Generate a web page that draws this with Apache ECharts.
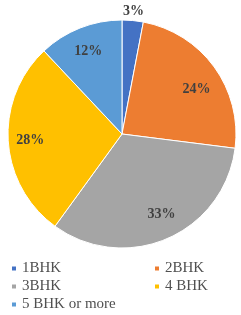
<!DOCTYPE html>
<html>
<head>
<meta charset="utf-8">
<script src="https://cdn.jsdelivr.net/npm/echarts@6/dist/echarts.min.js"></script>
<style>
  html, body { margin: 0; padding: 0; background: #fff; }
  #chart { width: 241px; height: 315px; }
</style>
</head>
<body>
<div id="chart"></div>
<script>
const categories = ['1BHK', '2BHK', '3BHK', '4 BHK', '5 BHK or more']
const shares = [3, 24, 33, 28, 12]
const colors = ['#4472C4', '#ED7D31', '#A5A5A5', '#FFC000', '#5B9BD5']
const leftLegend = ['1BHK', '3BHK', '5 BHK or more']
const rightLegend = ['2BHK', '4 BHK']

const center = [122, 134]
const R = 114
const serif = 'Liberation Serif'

// small nudges so labels sit where the original best-fit put them
const labelNudge = [[0, 0], [0, 9], [3, -4], [0, 1], [0, 3]]

const pieData = categories.map((name, i) => ({
  name,
  value: shares[i],
  itemStyle: { color: colors[i] }
}))

// transparent copies of the pie, only used to place the percent labels
const labelData = (show) => categories.map((name, i) => ({
  name,
  value: shares[i],
  label: { show: show(i), offset: labelNudge[i] }
}))

const labelStyle = {
  position: 'inside',
  formatter: '{c}%',
  fontFamily: serif,
  fontWeight: 'bold',
  fontSize: 14,
  color: '#404040'
}

const legendBase = {
  orient: 'vertical',
  top: 261,
  height: 60,
  padding: 0,
  itemWidth: 6,
  itemHeight: 6,
  itemGap: 3,
  icon: 'rect',
  textStyle: { fontFamily: serif, fontSize: 15, color: '#505050' }
}

const chart = echarts.init(document.getElementById('chart'))
chart.setOption({
  animation: false,
  legend: [
    Object.assign({}, legendBase, { left: 10, data: leftLegend }),
    Object.assign({}, legendBase, { left: 153, data: rightLegend })
  ],
  series: [
    {
      type: 'pie',
      center,
      radius: [0, R],
      silent: true,
      label: { show: false },
      labelLine: { show: false },
      itemStyle: { borderColor: '#fff', borderWidth: 1 },
      data: pieData
    },
    {
      type: 'pie',
      center,
      radius: [64, R],
      silent: true,
      itemStyle: { color: 'transparent' },
      label: labelStyle,
      labelLine: { show: false },
      data: labelData(i => i > 0)
    },
    {
      type: 'pie',
      center,
      radius: [R, R + 12],
      silent: true,
      itemStyle: { color: 'transparent' },
      label: labelStyle,
      labelLine: { show: false },
      data: labelData(i => i === 0)
    }
  ]
})
</script>
</body>
</html>
